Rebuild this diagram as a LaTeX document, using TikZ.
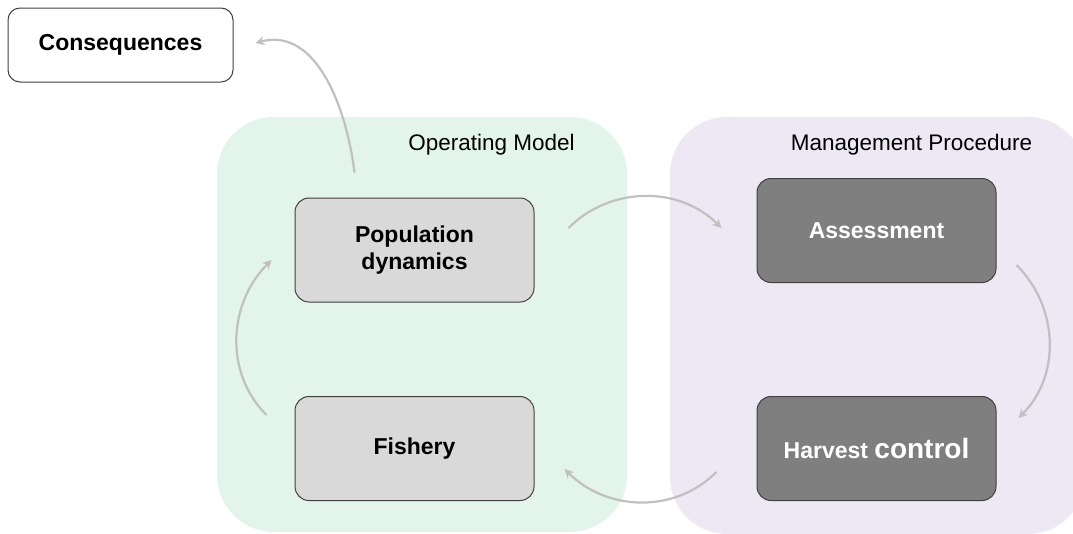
\documentclass[tikz,border=0pt]{standalone}
\usepackage{fontspec}
\setmainfont{Liberation Sans}
\usetikzlibrary{arrows.meta,calc}
\definecolor{omgreen}{HTML}{E3F4EA}
\definecolor{mppurple}{HTML}{EEE8F4}
\definecolor{boxlight}{HTML}{D9D9D9}
\definecolor{boxdark}{HTML}{7F7F7F}
\definecolor{arrowgray}{HTML}{C0C0C0}
\definecolor{edgegray}{HTML}{404040}
\begin{document}
\begin{tikzpicture}[x=1pt,y=1pt,
  box/.style={draw=edgegray, line width=1pt, rounded corners=14pt,
    minimum width=239pt, minimum height=104pt, align=center, inner sep=0pt,
    font=\bfseries\fontsize{23}{27}\selectfont},
  lightbox/.style={box, fill=boxlight, text=black},
  darkbox/.style={box, fill=boxdark, text=white},
  panellabel/.style={font=\fontsize{22.5}{26}\selectfont, text=black, inner sep=0pt},
  flow/.style={draw=arrowgray, line width=2.2pt, -{Stealth[length=9pt,width=9pt]}},
  panelbg/.style={rounded corners=57pt}]
\useasboundingbox (0,0) rectangle (1073,-533);
\clip (0,0) rectangle (1073,-533);
% panels
\fill[omgreen, panelbg] (217,-117) rectangle (627,-532);
\fill[mppurple, panelbg] (670,-117) rectangle (1085,-534);
\node[panellabel] (omlabel) at (491.5,-145) {Operating Model};
\node[panellabel] (mplabel) at (911.5,-145) {Management Procedure};
% nodes
\node[draw=edgegray, line width=1pt, fill=white, rounded corners=12pt,
  minimum width=225pt, minimum height=74pt, inner sep=0pt,
  font=\bfseries\fontsize{23}{27}\selectfont] (cons) at (120.5,-45) {Consequences};
\node[lightbox] (pop) at (414.5,-250) {Population\\dynamics};
\node[lightbox] (fish) at (414.5,-448.5) {Fishery};
\node[darkbox] (assess) at (876.5,-230.5) {Assessment};
\node[darkbox] (hcr) at (876.5,-448.5) {Harvest {\fontsize{28}{30}\selectfont control}};
% connector end points
\coordinate (popTop) at ($(pop.north)+(-60,25)$);
\coordinate (consEnd) at ($(cons.east)+(22,2)$);
\coordinate (popOut) at ($(pop.east)+(34,22)$);
\coordinate (assessIn) at ($(assess.west)+(-35,2.5)$);
\coordinate (assessOut) at ($(assess.south east)+(20,18)$);
\coordinate (hcrIn) at ($(hcr.north east)+(22,-22)$);
\coordinate (hcrOut) at ($(hcr.west)+(-40,-23.5)$);
\coordinate (fishIn) at ($(fish.east)+(30,-20.5)$);
\coordinate (fishOut) at ($(fish.west)+(-28,33.5)$);
\coordinate (popIn) at ($(pop.west)+(-23,-10)$);
% connectors
\draw[flow] (popTop) to[out=97,in=15] (consEnd);
\draw[flow] (popOut) to[out=45,in=135] (assessIn);
\draw[flow] (assessOut) to[out=-45,in=45] (hcrIn);
\draw[flow] (hcrOut) to[out=-135,in=-45] (fishIn);
\draw[flow] (fishOut) to[out=135,in=-135] (popIn);
\end{tikzpicture}
\end{document}
